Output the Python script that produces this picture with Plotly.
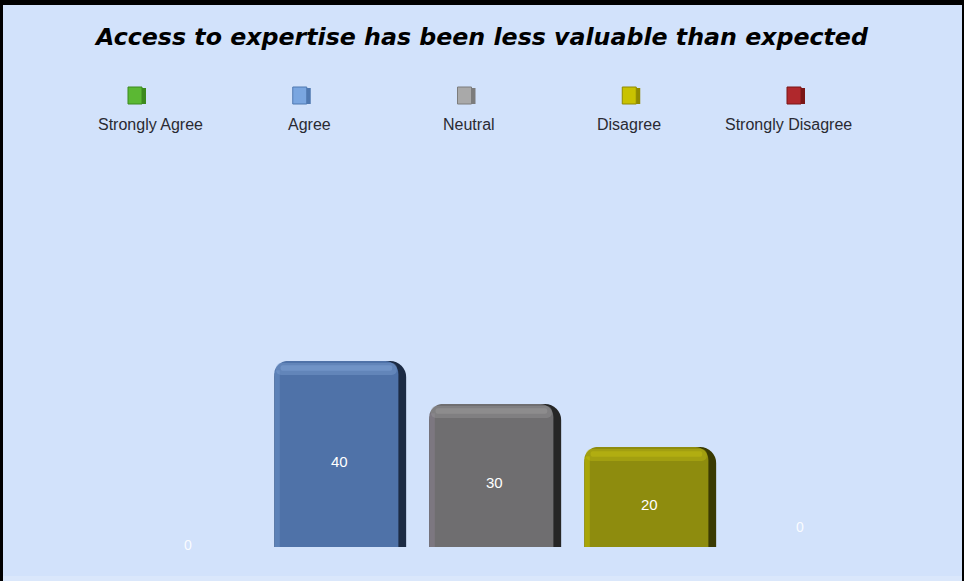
import plotly.graph_objects as go

# ---- data -------------------------------------------------------------
categories = ["Strongly Agree", "Agree", "Neutral", "Disagree", "Strongly Disagree"]
values = [0, 40, 30, 20, 0]

front_colors = ["#5BB833", "#4F72A8", "#6F6E70", "#8E8C0E", "#A82A2A"]
side_colors = ["#2E5E18", "#1C2B44", "#262626", "#3A3A02", "#4A1010"]
top_colors = ["#8ED86A", "#86A8DA", "#A0A0A0", "#C8C414", "#D05050"]
edge_colors = ["#7CCB55", "#6A8FC6", "#8A8090", "#C2BE00", "#C84040"]
legend_colors = ["#5BB833", "#7AA6E0", "#A9A9A9", "#C9C200", "#B0282C"]
legend_side = ["#3C8A1E", "#4F78B0", "#7C7C7C", "#908A00", "#7A1616"]

# ---- geometry ---------------------------------------------------------
W, H = 964, 581
ML, MR, MT, MB = 107, 82, 140, 34
PW, PH = W - ML - MR, H - MT - MB
PX_PER_UNIT = 4.3
Y_MAX = PH / PX_PER_UNIT
LIP = 14 / PX_PER_UNIT  # depth of the rounded top face, in value units


def px_x(px):
    return (px - ML) / PW


def px_y(py):
    return (H - MB - py) / PH


lips = [LIP if v > 0 else 0 for v in values]
full = [v + l for v, l in zip(values, lips)]

fig = go.Figure()

# dark body (shows as the shaded right side of each box)
fig.add_trace(go.Bar(x=categories, y=full, width=0.85, offset=-0.42,
                     marker=dict(color=side_colors, line_width=0, cornerradius=16),
                     hoverinfo="skip"))
# front face
fig.add_trace(go.Bar(x=categories, y=full, width=0.80, offset=-0.42,
                     marker=dict(color=front_colors, line_width=0, cornerradius=13),
                     hoverinfo="skip"))
# lit left edge of the front face
fig.add_trace(go.Bar(x=categories, y=[f - 2 * l / 3 for f, l in zip(full, lips)],
                     width=0.035, offset=-0.42,
                     marker=dict(color=edge_colors, line_width=0, opacity=0.5),
                     hoverinfo="skip"))
# rounded top face: a soft wide glow and a narrower brighter band
fig.add_trace(go.Bar(x=categories, y=[l * 0.85 for l in lips],
                     base=[v for v in values],
                     width=0.78, offset=-0.41,
                     marker=dict(color=top_colors, line_width=0, opacity=0.35,
                                 cornerradius=10),
                     hoverinfo="skip"))
fig.add_trace(go.Bar(x=categories, y=[l * 0.4 for l in lips],
                     base=[v + l * 0.3 for v, l in zip(values, lips)],
                     width=0.72, offset=-0.38,
                     marker=dict(color=top_colors, line_width=0, opacity=0.4,
                                 cornerradius=3),
                     hoverinfo="skip"))

# value labels
zero_shift = {"Strongly Agree": (3, 2), "Strongly Disagree": (-5, 20)}
annotations = []
for c, v in zip(categories, values):
    if v > 0:
        annotations.append(dict(x=c, y=v / 2, text=str(v), showarrow=False,
                                font=dict(family="Liberation Sans", size=15, color="white")))
    else:
        dx, dy = zero_shift.get(c, (0, 0))
        annotations.append(dict(x=c, y=0, text=str(v), showarrow=False, yanchor="middle",
                                xshift=dx, yshift=dy,
                                font=dict(family="Liberation Sans", size=14,
                                          color="rgba(255,255,255,0.9)")))

# legend: a small box above each category name
shapes = []
icon_x0, icon_step = 136, 164.75
text_x0, text_step = 150, 159.5
for i, c in enumerate(categories):
    cx = icon_x0 + i * icon_step
    shapes.append(dict(type="rect", xref="paper", yref="paper",
                       x0=px_x(cx - 3), x1=px_x(cx + 10), y0=px_y(104), y1=px_y(88),
                       fillcolor=legend_side[i], line_width=0))
    shapes.append(dict(type="rect", xref="paper", yref="paper",
                       x0=px_x(cx - 8), x1=px_x(cx + 6), y0=px_y(104), y1=px_y(87),
                       fillcolor=legend_colors[i], line=dict(color=legend_side[i], width=1)))
    annotations.append(dict(x=px_x(text_x0 + i * text_step), y=px_y(125),
                            xref="paper", yref="paper", text=c, showarrow=False,
                            xanchor="center", yanchor="middle",
                            font=dict(family="Liberation Sans", size=16, color="#2A2A32")))

# frame
shapes += [
    dict(type="rect", xref="paper", yref="paper", x0=px_x(0), x1=px_x(W), y0=px_y(H),
         y1=px_y(576), fillcolor="#DAE7FB", line_width=0, layer="below"),
    dict(type="rect", xref="paper", yref="paper", x0=px_x(0), x1=px_x(3), y0=px_y(H),
         y1=px_y(0), fillcolor="black", line_width=0),
    dict(type="rect", xref="paper", yref="paper", x0=px_x(0), x1=px_x(W), y0=px_y(5),
         y1=px_y(0), fillcolor="black", line_width=0),
    dict(type="rect", xref="paper", yref="paper", x0=px_x(W - 2), x1=px_x(W), y0=px_y(H),
         y1=px_y(0), fillcolor="black", line_width=0),
]

fig.update_layout(
    width=W, height=H,
    margin=dict(l=ML, r=MR, t=MT, b=MB),
    paper_bgcolor="#D2E2FB", plot_bgcolor="#D2E2FB",
    barmode="overlay", showlegend=False,
    title=dict(text="Access to expertise has been less valuable than expected",
               x=0.5, xref="container", xanchor="center",
               y=1 - 37 / H, yref="container", yanchor="middle",
               font=dict(family="DejaVu Sans", size=23.7, color="black",
                         weight="bold", style="italic")),
    xaxis=dict(visible=False, range=[-0.5, 4.5]),
    yaxis=dict(visible=False, range=[0, Y_MAX]),
    annotations=annotations,
    shapes=shapes,
)

fig.write_html("out.html")
